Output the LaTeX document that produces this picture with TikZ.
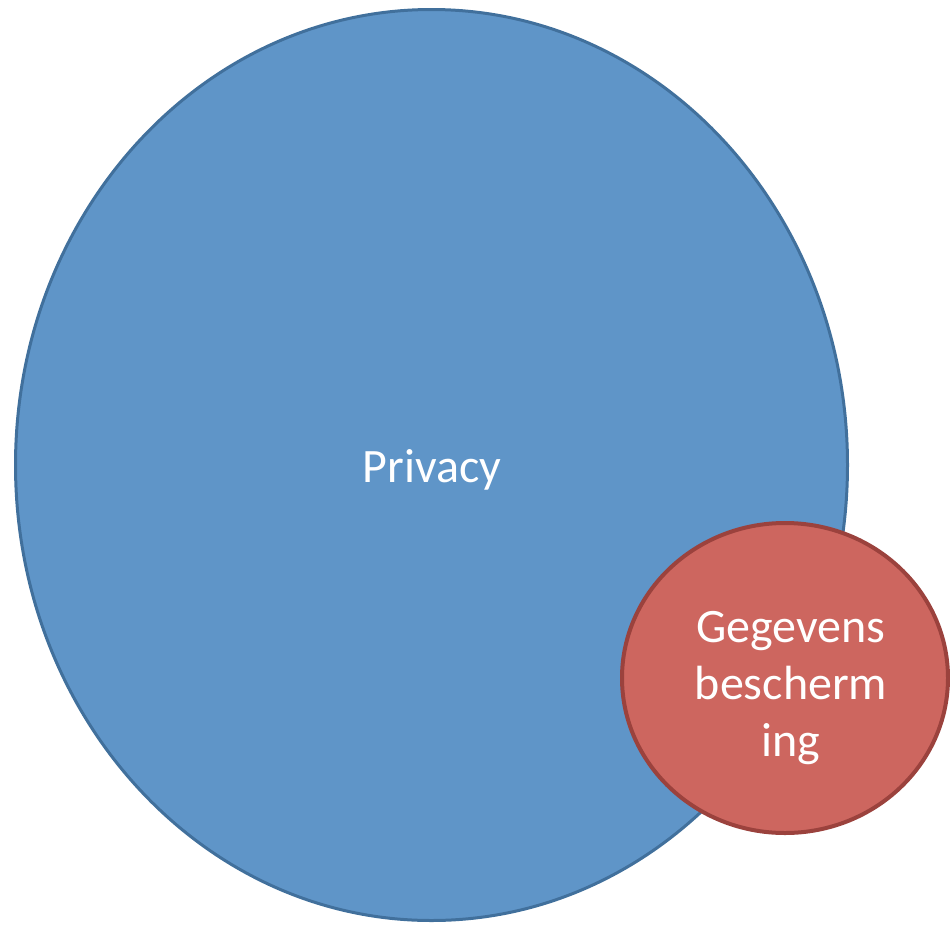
\documentclass[tikz,border=0pt]{standalone}
\usepackage{fontspec}
\setmainfont{Carlito}
\definecolor{bluefill}{HTML}{5F95C8}
\definecolor{blueline}{HTML}{41709C}
\definecolor{redfill}{HTML}{CD665F}
\definecolor{redline}{HTML}{9B423D}
\tikzset{
  lbl/.style={text=white, font=\fontsize{48}{57}\selectfont, align=center, inner sep=0pt},
}
\begin{document}
\begin{tikzpicture}[x=1pt,y=-1pt]
\useasboundingbox (0,0) rectangle (950,924);
\draw[fill=bluefill, draw=blueline, line width=3pt] (431.5,465) ellipse [x radius=416, y radius=455.5];
\draw[fill=redfill, draw=redline, line width=4pt] (785,678) ellipse [x radius=163, y radius=155];
\node[lbl] (privacy) at (432,470) {Privacy};
\node[lbl] (gegevens) at (791,688) {Gegevens\\bescherm\\ing};
\end{tikzpicture}
\end{document}
